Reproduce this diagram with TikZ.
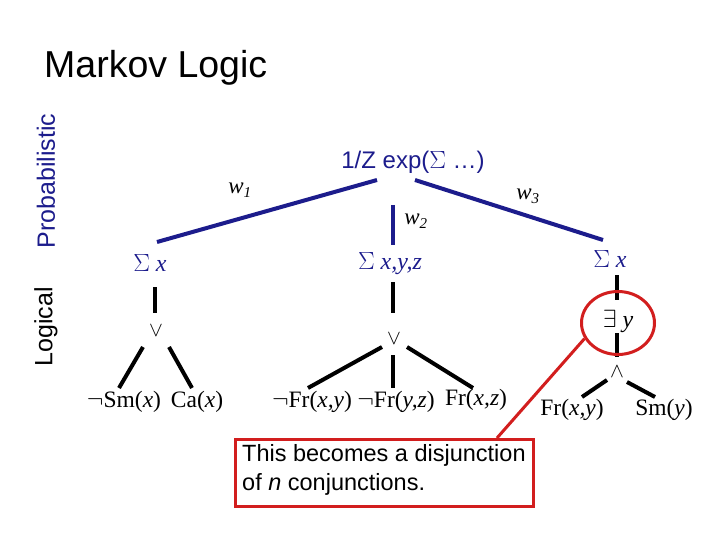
\documentclass[tikz,border=0pt]{standalone}
\usepackage{fontspec}
\usetikzlibrary{shapes.geometric}
\setmainfont{Liberation Sans}
\newfontfamily\tms{Liberation Serif}
\definecolor{navy}{RGB}{28,28,140}
\definecolor{redc}{RGB}{210,30,30}
\begin{document}
\begin{tikzpicture}[x=1pt,y=-1pt,
  lbl/.style={inner sep=0pt,font=\tms\fontsize{23.5}{26}\selectfont},
  sig/.style={inner sep=0pt,text=navy,font=\tms\fontsize{24}{26}\selectfont},
  wl/.style={inner sep=0pt,font=\tms\itshape\fontsize{23}{26}\selectfont},
  op/.style={inner sep=0pt,font=\fontsize{22}{24}\selectfont},
  blu/.style={draw=navy,line width=4pt},
  blk/.style={draw=black,line width=4pt}]
\useasboundingbox (0,0) rectangle (720,540);
\node[inner sep=0pt,anchor=west,font=\fontsize{37.5}{40}\selectfont] (title) at (44,68) {Markov Logic};
\node[inner sep=0pt,rotate=90,text=navy,font=\fontsize{25}{28}\selectfont] (prob) at (46,181) {Probabilistic};
\node[inner sep=0pt,rotate=90,font=\fontsize{25}{28}\selectfont] (logi) at (46,327) {Logical};
\node[inner sep=0pt,text=navy,font=\fontsize{24}{26}\selectfont] (top) at (413,162) {1/Z exp($\Sigma$ \dots)};
% connector anchors
\coordinate (t1) at (377,180);
\coordinate (t2) at (393,205);
\coordinate (t3) at (415,180);
\coordinate (b1) at (157,242);
\coordinate (b2) at (393,245);
\coordinate (b3) at (603,240);
\draw[blu] (t1) -- (b1);
\draw[blu] (t2) -- (b2);
\draw[blu] (t3) -- (b3);
\node[wl] (w1) at (240,190) {w\textsubscript{\fontsize{15}{16}\selectfont 1}};
\node[wl] (w2) at (416,221) {w\textsubscript{\fontsize{15}{16}\selectfont 2}};
\node[wl] (w3) at (528,196) {w\textsubscript{\fontsize{15}{16}\selectfont 3}};
\node[sig] (s1) at (150,263) {$\Sigma$ \textit{x}};
\node[sig] (s2) at (390,264) {$\Sigma$ \textit{x,y,z}};
\node[sig] (s3) at (610,259) {$\Sigma$ \textit{x}};
% left tree
\coordinate (l0a) at (155,287);
\coordinate (l0b) at (155,313);
\draw[blk] (l0a) -- (l0b);
\node[op] (or1) at (156,331) {$\vee$};
\node[lbl] (sm) at (124,402) {$\neg$Sm(\textit{x})};
\node[lbl] (ca) at (197,402) {Ca(\textit{x})};
\coordinate (l1a) at (143,347); \coordinate (l1b) at (119,388);
\coordinate (l2a) at (169,347); \coordinate (l2b) at (192,388);
\draw[blk] (l1a) -- (l1b);
\draw[blk] (l2a) -- (l2b);
% middle tree
\coordinate (m0a) at (393,282);
\coordinate (m0b) at (393,313);
\draw[blk] (m0a) -- (m0b);
\node[op] (or2) at (394,339) {$\vee$};
\coordinate (m1a) at (382,347); \coordinate (m1b) at (308,388);
\coordinate (m2a) at (393,355); \coordinate (m2b) at (393,388);
\coordinate (m3a) at (407,347); \coordinate (m3b) at (473,388);
\draw[blk] (m1a) -- (m1b);
\draw[blk] (m2a) -- (m2b);
\draw[blk] (m3a) -- (m3b);
\node[lbl] (f1) at (312,402) {$\neg$Fr(\textit{x,y})};
\node[lbl] (f2) at (396,402) {$\neg$Fr(\textit{y,z})};
\node[lbl] (f3) at (476,400) {Fr(\textit{x,z})};
% right tree
\coordinate (r0a) at (617,275);
\coordinate (r0b) at (617,300);
\draw[blk] (r0a) -- (r0b);
\node[inner sep=0pt,font=\tms\fontsize{24}{26}\selectfont] (ex) at (618,321) {$\exists$ \textit{y}};
\coordinate (r1a) at (617,333);
\coordinate (r1b) at (617,357);
\draw[blk] (r1a) -- (r1b);
\node[op] (and) at (617,372) {$\wedge$};
\coordinate (r2a) at (607,380); \coordinate (r2b) at (582,397);
\coordinate (r3a) at (627,382); \coordinate (r3b) at (655,397);
\draw[blk] (r2a) -- (r2b);
\draw[blk] (r3a) -- (r3b);
\node[lbl] (fxy) at (572,410) {Fr(\textit{x,y})};
\node[lbl] (smy) at (664,410) {Sm(\textit{y})};
\node[draw=redc,line width=3pt,ellipse,minimum width=73pt,minimum height=63pt,inner sep=0pt] (circ) at (618,323) {};
% callout
\node[draw=redc,line width=3pt,fill=white,anchor=north west,minimum width=298pt,minimum height=67pt,inner sep=0pt] (box) at (234,438) {};
\node[inner sep=0pt,anchor=north west,align=left,font=\fontsize{23.5}{29}\selectfont] (btxt) at (242,444) {This becomes a disjunction\\of \textit{n} conjunctions.};
\coordinate (cb) at (497,438);
\draw[draw=redc,line width=3pt] (circ.205) -- (cb);
\end{tikzpicture}
\end{document}
